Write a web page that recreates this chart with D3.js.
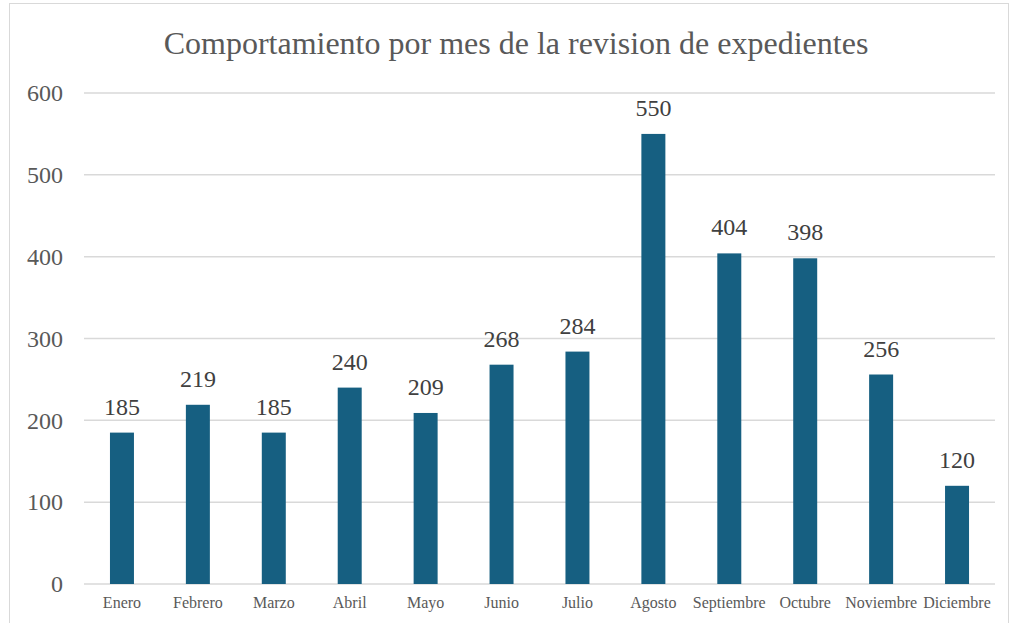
<!DOCTYPE html>
<html>
<head>
<meta charset="utf-8">
<script src="https://cdn.jsdelivr.net/npm/d3@7"></script>
<style>
  body { margin: 0; background: #fff; }
</style>
</head>
<body>
<div id="plot"></div>
<script>
var months = ["Enero", "Febrero", "Marzo", "Abril", "Mayo", "Junio", "Julio",
  "Agosto", "Septiembre", "Octubre", "Noviembre", "Diciembre"];
var values = [185, 219, 185, 240, 209, 268, 284, 550, 404, 398, 256, 120];
var yTicks = [0, 100, 200, 300, 400, 500, 600];
var title = "Comportamiento por mes de la revision de expedientes";

var FONT = "'Liberation Serif', 'Times New Roman', serif";
var W = 1011, H = 623;
var margin = { top: 93, right: 16, bottom: 39, left: 84 },
  width = W - margin.left - margin.right,
  height = H - margin.top - margin.bottom;

var root = d3.select("#plot").append("svg")
  .attr("width", W)
  .attr("height", H);

// chart frame
root.append("rect")
  .attr("x", 9.5).attr("y", 3.5)
  .attr("width", W - 12).attr("height", H + 10)
  .attr("fill", "#fff")
  .attr("stroke", "#d9d9d9")
  .attr("stroke-width", 1);

root.append("text")
  .attr("x", 516)
  .attr("y", 54)
  .attr("text-anchor", "middle")
  .style("font-family", FONT)
  .style("font-size", "32px")
  .attr("fill", "#595959")
  .text(title);

var svg = root.append("g")
  .attr("transform", `translate(${margin.left},${margin.top})`);

var x = d3.scaleBand()
  .domain(months)
  .range([0, width])
  .paddingInner(0.684)
  .paddingOuter(0.342);

var y = d3.scaleLinear()
  .domain([0, 600])
  .range([height, 0]);

// gridlines
svg.append("g")
  .selectAll("line")
  .data(yTicks)
  .join("line")
  .attr("x1", 0).attr("x2", width)
  .attr("y1", d => y(d)).attr("y2", d => y(d))
  .attr("stroke", "#d9d9d9")
  .attr("stroke-width", 1.5);

// y axis labels
var yAxis = svg.append("g")
  .call(d3.axisLeft(y).tickValues(yTicks).tickSize(0).tickPadding(21));
yAxis.select(".domain").remove();
yAxis.selectAll("text")
  .style("font-family", FONT)
  .style("font-size", "24px")
  .attr("fill", "#595959");

// x axis labels
var xAxis = svg.append("g")
  .attr("transform", `translate(0,${height})`)
  .call(d3.axisBottom(x).tickSize(0).tickPadding(13));
xAxis.select(".domain").remove();
xAxis.selectAll("text")
  .style("font-family", FONT)
  .style("font-size", "16px")
  .attr("fill", "#595959");

// bars
svg.selectAll("rect.bar")
  .data(values)
  .join("rect")
  .attr("class", "bar")
  .attr("x", (d, i) => x(months[i]))
  .attr("y", d => y(d))
  .attr("width", x.bandwidth())
  .attr("height", d => height - y(d))
  .attr("fill", "#165f81");

// value labels
svg.selectAll("text.val")
  .data(values)
  .join("text")
  .attr("class", "val")
  .attr("x", (d, i) => x(months[i]) + x.bandwidth() / 2)
  .attr("y", d => y(d) - 18)
  .attr("text-anchor", "middle")
  .style("font-family", FONT)
  .style("font-size", "24px")
  .attr("fill", "#404040")
  .text(d => d);
</script>
</body>
</html>
